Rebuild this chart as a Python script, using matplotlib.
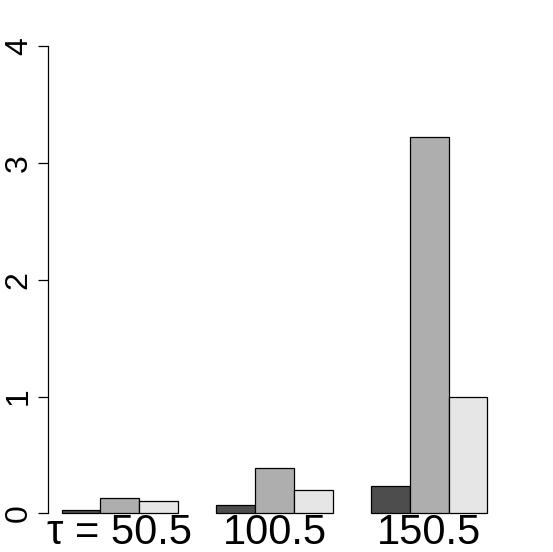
import matplotlib
matplotlib.use("Agg")
import matplotlib.pyplot as plt
import numpy as np

groups = ["τ = 50.5", "100.5", "150.5"]
series1 = [0.026, 0.068, 0.23]
series2 = [0.128, 0.385, 3.22]
series3 = [0.103, 0.197, 1.0]
colors = ["#4D4D4D", "#AEAEAE", "#E6E6E6"]
yticks = [0, 1, 2, 3, 4]

plt.rcParams['font.family'] = ['Liberation Sans', 'DejaVu Sans']

W, H = 553, 552
fig = plt.figure(figsize=(W / 100, H / 100), dpi=100)
left_px, right_px = 48, 501
top_px, bottom_px = 46.3, 513.3
ax = fig.add_axes([left_px / W, (H - bottom_px) / H,
                   (right_px - left_px) / W, (bottom_px - top_px) / H])

data = [series1, series2, series3]
n = len(groups)
for gi in range(n):
    base = 1 + gi * 4
    for si, s in enumerate(data):
        ax.bar(base + si, s[gi], width=1, align='edge', color=colors[si],
               edgecolor='black', linewidth=0.9, clip_on=False)

ax.set_xlim(0.646, 12.354)
ax.set_ylim(0, 4)
for sp in ['top', 'right', 'bottom']:
    ax.spines[sp].set_visible(False)
ax.spines['left'].set_bounds(0, 4)
ax.spines['left'].set_linewidth(0.9)
ax.set_yticks(yticks)
ax.set_yticklabels([str(t) for t in yticks], rotation=90, va='center', fontsize=23)
ax.tick_params(axis='y', length=7.2, width=0.9, pad=3)
ax.set_xticks([1 + gi * 4 + 1.5 for gi in range(n)])
ax.set_xticklabels(groups, fontsize=30)
ax.tick_params(axis='x', length=0, pad=0)

fig.savefig("out.png", dpi=100)
